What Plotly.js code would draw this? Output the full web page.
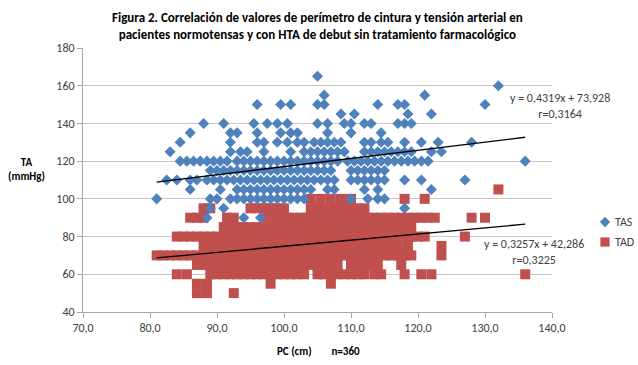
<!DOCTYPE html>
<html>
<head>
<meta charset="utf-8">
<script src="https://cdn.plot.ly/plotly-3.0.1.min.js"></script>
<style>html,body{margin:0;padding:0;background:#fff;}#chart{width:638px;height:365px;}</style>
</head>
<body>
<div id="chart"></div>
<script>
// ---- Data (PC in cm, TA in mmHg) ----
// TAS (systolic): one list of PC values per TA level
const tasLevels = [165, 160, 155, 150, 145, 140, 135, 130, 125, 120, 115, 110, 105, 100, 95, 90];
const tasPC = [
  [105],
  [132],
  [106, 121],
  [96, 99.5, 101, 105, 106, 114, 117, 118, 130],
  [108.5, 110.5, 118.5, 122],
  [88, 91, 95.5, 97.5, 99, 100.5, 105, 106.5, 109, 110, 112, 113, 117, 118, 119],
  [86, 92, 93, 96, 99.5, 101, 102, 106.5, 110, 114.5],
  [84.5, 92, 96, 97, 99, 100.5, 102, 103, 104.5, 105.5, 106.5, 107.5, 108.5, 112, 113, 114.5, 115.5, 118, 120.5, 123, 128],
  [83, 92, 93.5, 94.5, 97, 101, 103, 104, 105, 106, 107, 108, 109, 112, 113, 114, 115, 116, 117, 118, 119, 122, 123.5],
  [84.5, 85.5, 86.5, 87.5, 88.5, 89.5, 90.5, 91.5, 93, 94, 95, 96, 97, 98, 99, 100, 101, 102, 103, 104, 105, 106, 107, 108, 109.5, 110.5, 111.5, 112.5, 113.5, 114.5, 115.5, 116.5, 117.5, 118.5, 119.5, 120.5, 121.5, 136],
  [89, 90, 91, 92, 93, 94, 95, 96, 97, 98, 99, 100, 101, 102, 103, 104, 105, 106, 107, 110, 111, 112, 113, 114, 115],
  [82.5, 84, 86, 87, 88.5, 89.5, 90.5, 91.5, 92.5, 93.5, 94.5, 95.5, 96.5, 97.5, 98.5, 99.5, 100.5, 101.5, 102.5, 103.5, 104.5, 105.5, 106.5, 107.5, 110, 111, 112, 113, 114, 115, 118, 120.5, 127],
  [86, 90.5, 93, 94, 95, 96, 97, 98, 99, 100, 101, 102, 103, 104, 106.5, 107.5, 112, 114, 122],
  [81, 89, 90, 92, 93, 94, 95, 96, 97, 98, 99, 100, 101, 102, 103, 110, 112.5, 114, 115],
  [89, 91, 118],
  [88.5, 94, 96.5]
];
// TAD (diastolic)
const tadLevels = [105, 100, 95, 90, 85, 80, 75, 70, 65, 60, 55, 50];
const tadPC = [
  [132],
  [104, 105.5, 107, 108.5, 110, 118, 121],
  [88, 89, 95, 96, 97, 98, 99, 100, 104, 105, 106, 107, 108, 109, 110, 111, 112],
  [86, 87, 88, 91.5, 92.5, 97.5, 98.5, 99.5, 100.5, 101.5, 102.5, 103.5, 104.5, 105.5, 106.5, 107.5, 108.5, 109.5, 110.5, 111.5, 112.5, 113.5, 114.5, 115.5, 116.5, 117.5, 118.5, 119.5, 120.5, 121.5, 122.5, 128, 130],
  [91, 92, 93, 94, 95, 96, 97, 98, 99, 100, 101, 102, 103, 104, 105, 106, 107, 108, 109, 110, 111, 112, 113, 114, 115, 116, 117, 118, 119],
  [84, 85, 86, 87, 88, 89, 90, 91, 92, 93, 94, 95, 96, 97, 98, 99, 100, 101, 102, 103, 104, 105, 106, 107, 108, 109, 110, 111, 112, 113, 114, 115, 116, 117, 118, 119, 120, 121, 127],
  [88, 89, 90, 91, 92, 93, 94, 95, 96, 97, 98, 99, 100, 101, 102, 103, 104, 105, 106, 107, 108, 109, 110, 111, 112, 113, 114, 115, 116, 117, 118.5, 123.5],
  [81, 82, 83, 84, 85, 86, 87, 88, 89, 90, 91, 92, 93, 94, 95, 96, 97, 98, 99, 100, 101, 102, 103, 104, 105, 106, 107, 108, 109, 110, 111, 112, 113, 114, 115, 116, 117, 118, 119, 123.5],
  [87, 88, 89, 90, 91, 92, 93, 94, 95, 96, 97, 98, 99, 100, 101, 102, 103, 104, 105, 106, 107, 108, 110, 111, 112, 113, 114, 117.5],
  [84, 85.5, 89, 90, 91, 92, 93, 94, 95, 96, 97, 98, 99, 100, 101, 102, 103, 105, 106, 107, 108, 109, 110, 111, 112, 113.5, 114.5, 118, 120.5, 122, 136],
  [87, 88.5, 98, 107],
  [87, 88.5, 92.5]
];
// Linear trend lines as printed on the chart
const seriesNames = ["TAS", "TAD"];
const seriesColors = ["#4F81BD", "#C0504D"];
const trendSlope = [0.4319, 0.3257];
const trendIntercept = [73.928, 42.286];
const trendR = ["0,3164", "0,3225"];

// ---- Build traces ----
function flatten(levels, lists) {
  const xs = [], ys = [];
  lists.forEach((l, i) => l.forEach(x => { xs.push(x); ys.push(levels[i]); }));
  return {xs, ys};
}
const tas = flatten(tasLevels, tasPC);
const tad = flatten(tadLevels, tadPC);

function trendTrace(xs, k) {
  const x0 = Math.min(...xs), x1 = Math.max(...xs);
  return {
    x: [x0, x1],
    y: [trendSlope[k] * x0 + trendIntercept[k], trendSlope[k] * x1 + trendIntercept[k]],
    mode: 'lines', type: 'scatter', showlegend: false, hoverinfo: 'skip',
    line: {color: '#000000', width: 1.3}
  };
}

const FONT = 'Carlito, Calibri, Lato, "Noto Sans", sans-serif';
const traces = [
  {x: tad.xs, y: tad.ys, name: seriesNames[1], type: 'scatter', mode: 'markers', showlegend: false,
   marker: {symbol: 'square', size: 10, color: seriesColors[1]}},
  {x: tas.xs, y: tas.ys, name: seriesNames[0], type: 'scatter', mode: 'markers', showlegend: false,
   marker: {symbol: 'diamond', size: 8.5, color: seriesColors[0]}},
  trendTrace(tas.xs, 0),
  trendTrace(tad.xs, 1)
];

function fmt(n) { return String(n).replace('.', ','); }

// Manual legend (symbol shapes in pixel size + text)
const legendX = 1.113, legendTextX = 1.13, legendY = [0.341, 0.265];
const legendPaths = ['M0,5.2L5.2,0L0,-5.2L-5.2,0Z', 'M-4.6,-4.6L4.6,-4.6L4.6,4.6L-4.6,4.6Z'];
const shapes = seriesNames.map((n, i) => ({
  type: 'path', xref: 'paper', yref: 'paper', xsizemode: 'pixel', ysizemode: 'pixel',
  xanchor: legendX, yanchor: legendY[i], path: legendPaths[i],
  fillcolor: seriesColors[i], line: {width: 0}
}));
const legendAnn = seriesNames.map((n, i) => ({
  xref: 'paper', yref: 'paper', x: legendTextX, y: legendY[i], xanchor: 'left', yanchor: 'middle',
  showarrow: false, text: n, font: {family: FONT, size: 12, color: '#404040'}
}));

const layout = {
  width: 638, height: 365,
  margin: {l: 83, r: 86, t: 48, b: 53, autoexpand: false},
  paper_bgcolor: '#ffffff', plot_bgcolor: '#ffffff',
  separators: ',.',
  font: {family: FONT, size: 11, color: '#404040'},
  showlegend: false,
  xaxis: {
    range: [70, 140], dtick: 10, tick0: 70, tickformat: '.1f', automargin: false,
    showgrid: false, zeroline: false, showline: true, linecolor: '#a6a6a6', linewidth: 1,
    ticks: 'outside', ticklen: 5, tickcolor: '#a6a6a6',
    tickfont: {family: FONT, size: 12, color: '#404040'}
  },
  yaxis: {
    range: [40, 180], dtick: 20, tick0: 40, automargin: false,
    showgrid: true, gridcolor: '#c8c8c8', gridwidth: 1, zeroline: false,
    showline: true, linecolor: '#a6a6a6', linewidth: 1,
    ticks: 'outside', ticklen: 5, tickcolor: '#a6a6a6',
    tickfont: {family: FONT, size: 12, color: '#404040'}
  },
  shapes: shapes,
  annotations: [
    {xref: 'paper', yref: 'paper', x: 0.5, y: 1.083, yanchor: 'middle', showarrow: false, align: 'center',
     text: '<b>Figura 2. Correlación de valores de perímetro de cintura y tensión arterial en<br>pacientes normotensas y con HTA de debut sin tratamiento farmacológico</b>',
     font: {family: FONT, size: 13, color: '#000000'}},
    {xref: 'paper', yref: 'paper', x: 1.017, y: 0.78, xanchor: 'center', yanchor: 'middle', showarrow: false, align: 'center',
     text: 'y = ' + fmt(trendSlope[0]) + 'x + ' + fmt(trendIntercept[0]) + '<br>r=' + trendR[0],
     font: {family: FONT, size: 12, color: '#404040'}},
    {xref: 'paper', yref: 'paper', x: 0.962, y: 0.228, xanchor: 'center', yanchor: 'middle', showarrow: false, align: 'center',
     text: 'y = ' + fmt(trendSlope[1]) + 'x + ' + fmt(trendIntercept[1]) + '<br>r=' + trendR[1],
     font: {family: FONT, size: 12, color: '#404040'}},
    {xref: 'paper', yref: 'paper', x: -0.121, y: 0.538, xanchor: 'center', yanchor: 'middle', showarrow: false, align: 'center',
     text: '<b>TA<br>(mmHg)</b>', font: {family: FONT, size: 11, color: '#000000'}},
    {xref: 'paper', yref: 'paper', x: 0.503, y: -0.1515, xanchor: 'center', yanchor: 'middle', showarrow: false, align: 'center',
     text: '<b>PC (cm)        n=360</b>', font: {family: FONT, size: 11, color: '#000000'}}
  ].concat(legendAnn)
};

Plotly.newPlot('chart', traces, layout, {displayModeBar: false, staticPlot: true});
</script>
</body>
</html>
